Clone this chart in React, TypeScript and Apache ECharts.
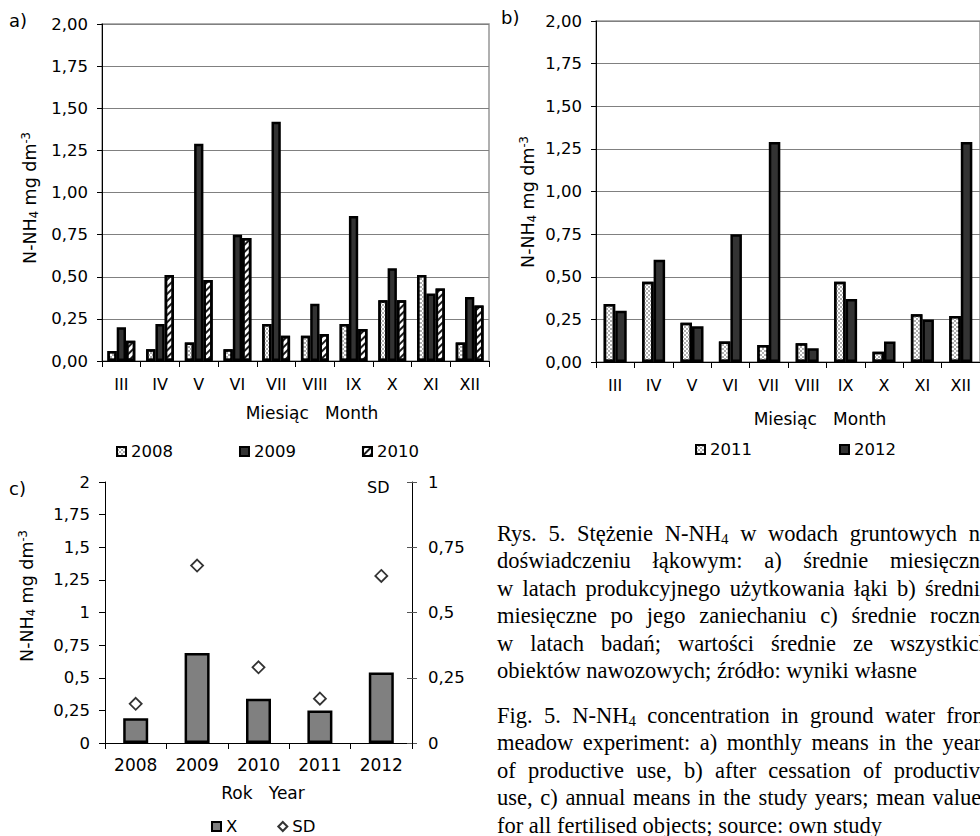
import React, { useEffect, useRef } from 'react';
import * as echarts from 'echarts';

// ---------- data ----------
const months = ['III', 'IV', 'V', 'VI', 'VII', 'VIII', 'IX', 'X', 'XI', 'XII'];
const a2008 = [0.06, 0.07, 0.11, 0.07, 0.22, 0.15, 0.22, 0.36, 0.51, 0.11];
const a2009 = [0.2, 0.22, 1.29, 0.75, 1.42, 0.34, 0.86, 0.55, 0.4, 0.38];
const a2010 = [0.12, 0.51, 0.48, 0.73, 0.15, 0.16, 0.19, 0.36, 0.43, 0.33];
const b2011 = [0.34, 0.47, 0.23, 0.12, 0.1, 0.11, 0.47, 0.06, 0.28, 0.27];
const b2012 = [0.3, 0.6, 0.21, 0.75, 1.29, 0.08, 0.37, 0.12, 0.25, 1.29];
const years = ['2008', '2009', '2010', '2011', '2012'];
const meanX = [0.19, 0.69, 0.34, 0.25, 0.54];
const sdValues = [0.15, 0.68, 0.29, 0.17, 0.64];

const captionPl = [
  'Rys. 5. Stężenie N-NH4 w wodach gruntowych na',
  'doświadczeniu łąkowym: a) średnie miesięczne',
  'w latach produkcyjnego użytkowania łąki b) średnie',
  'miesięczne po jego zaniechaniu c) średnie roczne',
  'w latach badań; wartości średnie ze wszystkich',
  'obiektów nawozowych; źródło: wyniki własne',
];
const captionEn = [
  'Fig. 5. N-NH4 concentration in ground water from',
  'meadow experiment: a) monthly means in the years',
  'of productive use, b) after cessation of productive',
  'use, c) annual means in the study years; mean values',
  'for all fertilised objects; source: own study',
];

// ---------- styles ----------
const SANS = '"DejaVu Sans", "Liberation Sans", sans-serif';
const SERIF = '"Liberation Serif", "Times New Roman", serif';
const CAP_SIZE = 22.5;
const CAP_SUB = 15;
const CAP_LEFT = 497;
const CAP_RIGHT = 990;
const CAP_LH = 27.5;
const TICK_FS = 16.5;
const CAT_FS = 16;

const checkerDecal = {
  symbol: 'rect',
  symbolSize: 1,
  dashArrayX: [[2, 2], [0, 2, 2, 0]],
  dashArrayY: [2, 0],
  color: '#b0b0b0',
  backgroundColor: '#ffffff',
};
const hatchDecal = {
  symbol: 'rect',
  symbolSize: 1,
  rotation: -Math.PI / 4,
  dashArrayX: [1, 0],
  dashArrayY: [2, 3],
  color: '#1a1a1a',
  backgroundColor: '#ffffff',
};

const fmt2 = (v: number) => v.toFixed(2).replace('.', ',');
const fmtShort = (v: number) => String(v).replace('.', ',');

function measure(ctx: CanvasRenderingContext2D, text: string, size: number) {
  ctx.font = `${size}px "Liberation Serif"`;
  return ctx.measureText(text).width;
}

function wordWidth(ctx: CanvasRenderingContext2D, w: string) {
  if (w.startsWith('N-NH4')) {
    return measure(ctx, 'N-NH', CAP_SIZE) + measure(ctx, '4', CAP_SUB) + measure(ctx, w.slice(5), CAP_SIZE);
  }
  return measure(ctx, w, CAP_SIZE);
}

function captionElements(lines: string[], y0: number, ctx: CanvasRenderingContext2D) {
  const out: any[] = [];
  const spaceW = measure(ctx, ' ', CAP_SIZE);
  lines.forEach((line, i) => {
    const words = line.split(' ');
    const widths = words.map((w) => wordWidth(ctx, w));
    const total = widths.reduce((a, b) => a + b, 0);
    const isLast = i === lines.length - 1;
    const gap = isLast ? spaceW : (CAP_RIGHT - CAP_LEFT - total) / (words.length - 1);
    let x = CAP_LEFT;
    const y = y0 + i * CAP_LH;
    words.forEach((w, j) => {
      const isSub = w.startsWith('N-NH4');
      out.push({
        type: 'text',
        x,
        y,
        silent: true,
        style: {
          text: isSub ? 'N-NH{s|4}' + w.slice(5) : w,
          fill: '#000',
          fontSize: CAP_SIZE,
          fontFamily: SERIF,
          lineHeight: 26,
          align: 'left',
          verticalAlign: 'middle',
          textAlign: 'left',
          textVerticalAlign: 'middle',
          rich: {
            s: { fontSize: CAP_SUB, fontFamily: SERIF, lineHeight: 14, verticalAlign: 'bottom' },
          },
        },
      });
      x += widths[j] + gap;
    });
  });
  return out;
}

function label(text: string, x: number, y: number, size: number, align = 'left') {
  return {
    type: 'text',
    x,
    y,
    silent: true,
    style: {
      text,
      fill: '#000',
      fontSize: size,
      fontFamily: SANS,
      align,
      verticalAlign: 'middle',
      textAlign: align,
      textVerticalAlign: 'middle',
    },
  };
}

function yName(x: number, y: number) {
  return {
    type: 'text',
    x,
    y,
    rotation: Math.PI / 2,
    silent: true,
    style: {
      text: 'N-NH{sub|4} mg dm{sup|-3}',
      fill: '#000',
      fontSize: 17.5,
      fontFamily: SANS,
      lineHeight: 20,
      align: 'center',
      verticalAlign: 'middle',
      textAlign: 'center',
      textVerticalAlign: 'middle',
      rich: {
        sub: { fontSize: 11.5, fontFamily: SANS, lineHeight: 11, verticalAlign: 'bottom' },
        sup: { fontSize: 11.5, fontFamily: SANS, lineHeight: 11, verticalAlign: 'top' },
      },
    },
  };
}

const axisLine = { show: true, lineStyle: { color: '#000', width: 1 } };
const tickStyle = { lineStyle: { color: '#000', width: 1 } };

function monthXAxis(gridIndex: number) {
  return {
    type: 'category',
    gridIndex,
    data: months,
    axisLine,
    axisTick: { show: true, length: 6, ...tickStyle },
    axisLabel: { margin: 15, fontSize: CAT_FS, fontFamily: SANS, color: '#000', interval: 0 },
  };
}

function monthYAxis(gridIndex: number) {
  return {
    type: 'value',
    gridIndex,
    min: 0,
    max: 2,
    interval: 0.25,
    axisLine,
    axisTick: { show: true, length: 5, ...tickStyle },
    splitLine: { show: true, lineStyle: { color: '#808080', width: 1 } },
    axisLabel: { margin: 14, fontSize: TICK_FS, fontFamily: SANS, color: '#000', formatter: fmt2 },
  };
}

const barBorder = { borderColor: '#000', borderWidth: 2.5 };

export default function App() {
  const ref = useRef<HTMLDivElement>(null);
  useEffect(() => {
    if (!ref.current) return;
    const chart = echarts.init(ref.current, undefined, { renderer: 'svg' });
    const canvas = document.createElement('canvas');
    const ctx = canvas.getContext('2d') as CanvasRenderingContext2D;

    const graphics: any[] = [
      label('a)', 9, 20, 18),
      label('b)', 501, 17, 18),
      label('c)', 9, 488, 18),
      label('SD', 367, 487, 16),
      yName(30, 198),
      yName(528, 202),
      yName(27, 596),
      label('Miesiąc   Month', 312, 413, 17, 'center'),
      label('Miesiąc   Month', 820, 419, 17, 'center'),
      label('Rok   Year', 263, 793, 17, 'center'),
      ...captionElements(captionPl, 533, ctx),
      ...captionElements(captionEn, 715, ctx),
    ];

    const legendText = { fontSize: 16.5, fontFamily: SANS, color: '#000' };

    chart.setOption({
      animation: false,
      backgroundColor: '#ffffff',
      textStyle: { fontFamily: SANS },
      grid: [
        { left: 102, top: 24, width: 387, height: 337, show: true, borderColor: '#969696', borderWidth: 1.5 },
        { left: 596, top: 21, width: 387, height: 341, show: true, borderColor: '#969696', borderWidth: 1.5 },
        { left: 105, top: 482, width: 307, height: 261 },
      ],
      xAxis: [
        monthXAxis(0),
        monthXAxis(1),
        {
          type: 'category',
          gridIndex: 2,
          data: years,
          axisLine,
          axisTick: { show: true, length: 6, ...tickStyle },
          axisLabel: { margin: 13, fontSize: 17, fontFamily: SANS, color: '#000' },
        },
      ],
      yAxis: [
        monthYAxis(0),
        monthYAxis(1),
        {
          type: 'value',
          gridIndex: 2,
          min: 0,
          max: 2,
          interval: 0.25,
          axisLine,
          axisTick: { show: true, length: 6, ...tickStyle },
          splitLine: { show: false },
          axisLabel: { margin: 15, fontSize: TICK_FS, fontFamily: SANS, color: '#000', formatter: fmtShort },
        },
        {
          type: 'value',
          gridIndex: 2,
          position: 'right',
          min: 0,
          max: 1,
          interval: 0.25,
          axisLine,
          axisTick: { show: true, length: 5, lineStyle: { color: '#555' } },
          splitLine: { show: false },
          axisLabel: { margin: 16, fontSize: TICK_FS, fontFamily: SANS, color: '#000', formatter: fmtShort },
        },
        {
          type: 'value',
          gridIndex: 2,
          position: 'right',
          min: 0,
          max: 1,
          interval: 0.25,
          axisLine: { show: false },
          axisTick: { show: true, inside: true, length: 5, lineStyle: { color: '#555' } },
          axisLabel: { show: false },
          splitLine: { show: false },
        },
      ],
      legend: [
        {
          data: ['2008', '2009', '2010'],
          left: 116,
          top: 443,
          padding: 0,
          icon: 'rect',
          itemWidth: 9,
          itemHeight: 9,
          itemGap: 66,
          selectedMode: false,
          textStyle: legendText,
        },
        {
          data: ['2011', '2012'],
          left: 695,
          top: 441,
          padding: 0,
          icon: 'rect',
          itemWidth: 9,
          itemHeight: 9,
          itemGap: 87,
          selectedMode: false,
          textStyle: legendText,
        },
        {
          data: [
            { name: 'X', icon: 'rect' },
            { name: 'SD', icon: 'diamond' },
          ],
          left: 211,
          top: 818,
          padding: 0,
          itemWidth: 9,
          itemHeight: 9,
          itemGap: 40,
          selectedMode: false,
          textStyle: legendText,
        },
      ],
      series: [
        {
          name: '2008', type: 'bar', xAxisIndex: 0, yAxisIndex: 0, data: a2008,
          barGap: '0%', barCategoryGap: '28%',
          itemStyle: { color: '#ffffff', ...barBorder, decal: checkerDecal },
        },
        {
          name: '2009', type: 'bar', xAxisIndex: 0, yAxisIndex: 0, data: a2009,
          itemStyle: { color: '#333333', ...barBorder },
        },
        {
          name: '2010', type: 'bar', xAxisIndex: 0, yAxisIndex: 0, data: a2010,
          itemStyle: { color: '#ffffff', ...barBorder, decal: hatchDecal },
        },
        {
          name: '2011', type: 'bar', xAxisIndex: 1, yAxisIndex: 1, data: b2011,
          barGap: '0%', barCategoryGap: '40%',
          itemStyle: { color: '#ffffff', ...barBorder, decal: checkerDecal },
        },
        {
          name: '2012', type: 'bar', xAxisIndex: 1, yAxisIndex: 1, data: b2012,
          itemStyle: { color: '#333333', ...barBorder },
        },
        {
          name: 'X', type: 'bar', xAxisIndex: 2, yAxisIndex: 2, data: meanX,
          barWidth: 25,
          itemStyle: { color: '#808080', ...barBorder },
        },
        {
          name: 'SD', type: 'scatter', xAxisIndex: 2, yAxisIndex: 3, data: sdValues,
          symbol: 'diamond', symbolSize: 12,
          itemStyle: { color: '#ffffff', borderColor: '#333', borderWidth: 1.8, opacity: 1 },
        },
      ],
      graphic: graphics,
    });
    return () => chart.dispose();
  }, []);
  return (
    <div
      ref={ref}
      style={{ position: 'absolute', left: 0, top: 0, width: 980, height: 836, background: '#fff' }}
    />
  );
}
